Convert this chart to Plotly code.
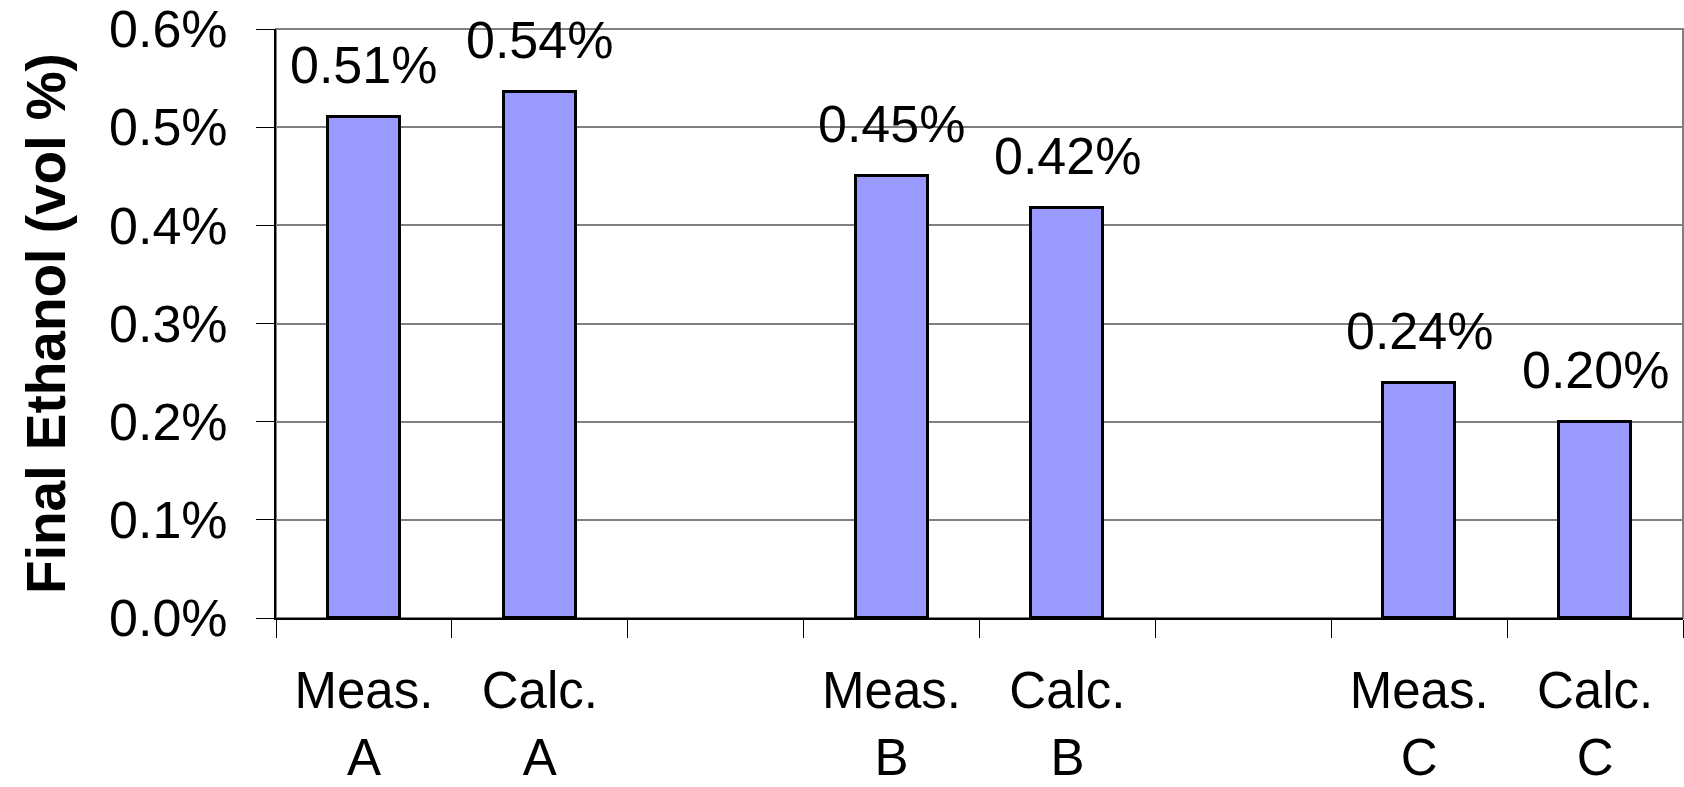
import plotly.graph_objects as go

# ---- data ----
categories = ["Meas.<br>A", "Calc.<br>A", " ", "Meas.<br>B", "Calc.<br>B", "  ", "Meas.<br>C", "Calc.<br>C"]
values = [0.51, 0.536, None, 0.45, 0.418, None, 0.239, 0.20]
y_tick_vals = [0.0, 0.1, 0.2, 0.3, 0.4, 0.5, 0.6]
y_tick_text = ["0.0%", "0.1%", "0.2%", "0.3%", "0.4%", "0.5%", "0.6%"]
y_title = "Final Ethanol (vol %)"

FONT = "Liberation Sans, Arial, sans-serif"

fig = go.Figure()
fig.add_trace(go.Bar(
    x=categories,
    y=values,
    width=0.41,
    marker=dict(color="#9999FF", line=dict(color="black", width=3)),
    showlegend=False,
    hoverinfo="skip",
))

for c, v in zip(categories, values):
    if v is None:
        continue
    fig.add_annotation(
        x=c, y=v, text=f"{v:.2f}%", showarrow=False,
        xref="x", yref="y", yanchor="bottom", yshift=21,
        font=dict(family=FONT, size=52, color="black"),
    )

fig.add_shape(type="rect", xref="paper", yref="paper", x0=0, x1=1, y0=0, y1=1,
              line=dict(color="#808080", width=2), layer="below")

fig.update_layout(
    width=1684, height=787,
    margin=dict(l=276, r=1, t=29, b=169),
    paper_bgcolor="white", plot_bgcolor="white",
    font=dict(family=FONT, size=52, color="black"),
    bargap=0,
    xaxis=dict(
        type="category", categoryorder="array", categoryarray=categories,
        range=[-0.5, 7.5], tickson="boundaries", automargin=False,
        ticks="outside", ticklen=18, tickcolor="black", tickwidth=1,
        showline=True, linecolor="black", linewidth=2,
        showgrid=False, zeroline=False,
        tickfont=dict(family=FONT, size=51, color="black"),
        ticklabelstandoff=27,
    ),
    yaxis=dict(
        range=[0, 0.6], tickvals=y_tick_vals, ticktext=y_tick_text,
        automargin=False,
        ticks="outside", ticklen=18, tickcolor="black", tickwidth=1,
        showline=True, linecolor="black", linewidth=2,
        showgrid=True, gridcolor="#808080", gridwidth=1.5, zeroline=False,
        tickfont=dict(family=FONT, size=52, color="black"),
        ticklabelstandoff=18,
        title=dict(text=y_title, standoff=26,
                   font=dict(family=FONT, size=55, color="black", weight="bold")),
    ),
)

fig.write_html("out.html")
